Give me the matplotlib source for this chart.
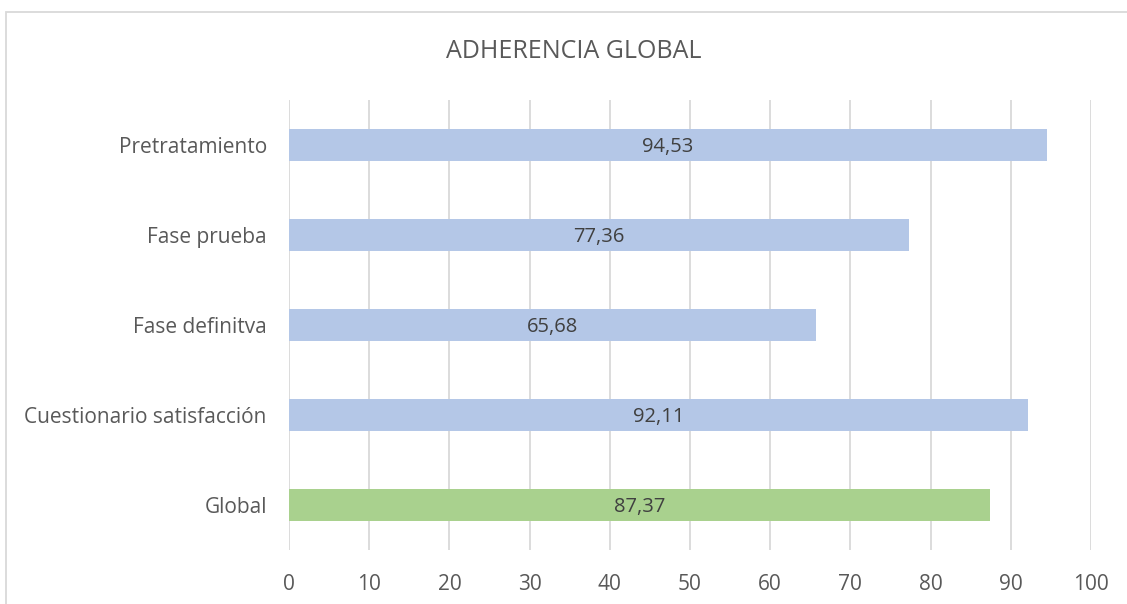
import numpy as np, matplotlib.pyplot as plt
from matplotlib.patches import Rectangle

categories = ["Pretratamiento", "Fase prueba", "Fase definitva", "Cuestionario satisfacción", "Global"]
values = [94.53, 77.36, 65.68, 92.11, 87.37]
labels = ["94,53", "77,36", "65,68", "92,11", "87,37"]
colors = ["#B4C7E7", "#B4C7E7", "#B4C7E7", "#B4C7E7", "#A9D18E"]
xticks = [0, 10, 20, 30, 40, 50, 60, 70, 80, 90, 100]

plt.rcParams["font.family"] = ["Open Sans", "DejaVu Sans"]
TXT = "#595959"

W, H = 1127, 604
fig = plt.figure(figsize=(W / 100, H / 100), dpi=100)
ax = fig.add_axes([289 / W, 1 - 550 / H, (1091 - 289) / W, 450 / H])

y = np.arange(len(categories))
ax.barh(y, values, height=0.36, color=colors, zorder=3)
for yi, v, lab in zip(y, values, labels):
    ax.text(v / 2, yi + 0.02, lab, ha="center", va="center", fontsize=14.5, color="#404040", zorder=4)

ax.set_xlim(0, 100)
ax.set_ylim(len(categories) - 0.5, -0.5)
ax.set_yticks(y)
ax.set_yticklabels(categories, fontsize=15, color=TXT)
ax.set_xticks(xticks)
ax.set_xticklabels([str(t) for t in xticks], fontsize=15, color=TXT)
ax.tick_params(axis="both", length=0)
ax.tick_params(axis="y", pad=16)
ax.tick_params(axis="x", pad=17)
ax.grid(True, axis="x", color="#D9D9D9", lw=1.3, zorder=0)
for s in ax.spines.values():
    s.set_visible(False)

fig.text(574 / W, 1 - 51 / H, "ADHERENCIA GLOBAL", ha="center", va="center", fontsize=18, color=TXT)

# chart border
fig.patches.append(Rectangle((6 / W, -0.05), 1.2, 1 - 11.5 / H + 0.05, transform=fig.transFigure,
                             fill=False, edgecolor="#D9D9D9", lw=1.3))

fig.savefig("out.png", dpi=100)
